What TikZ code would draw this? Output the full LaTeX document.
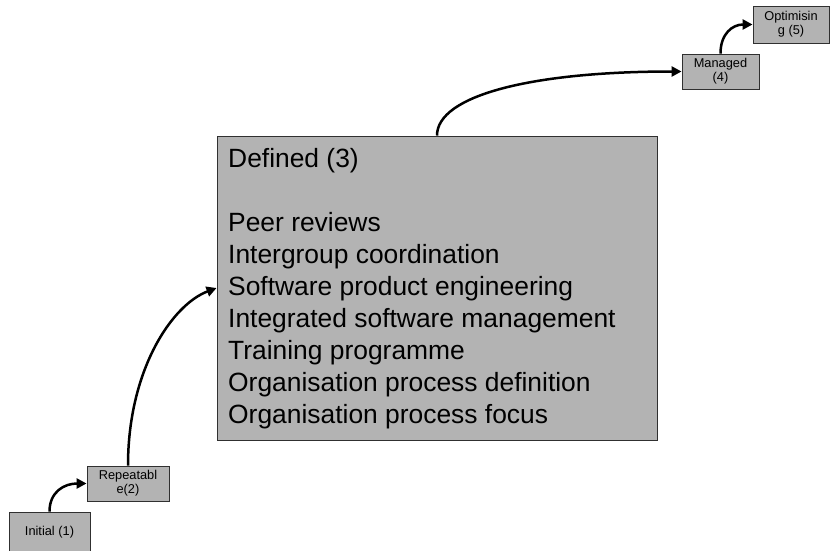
\documentclass[tikz,border=0pt]{standalone}
\usepackage{fontspec}
\setmainfont{Liberation Sans}
\usetikzlibrary{arrows.meta}
\definecolor{boxfill}{HTML}{B3B3B3}
\definecolor{boxline}{HTML}{303030}
\tikzset{
  smallbox/.style={draw=boxline, line width=0.9pt, fill=boxfill, inner sep=0pt,
    align=center, font=\fontsize{12.8}{14.3}\selectfont},
  bigbox/.style={draw=boxline, line width=0.9pt, fill=boxfill, inner sep=0pt,
    minimum width=440pt, minimum height=304pt},
  line/.style={anchor=base west, inner sep=0pt, font=\fontsize{26.4}{30}\selectfont},
  conn/.style={line width=2.5pt, -{Triangle[length=10pt,width=10pt]}}
}
\begin{document}
\begin{tikzpicture}[x=1pt,y=-1pt]
\useasboundingbox (0,0) rectangle (830,551);
\node[smallbox, minimum width=81pt, minimum height=40pt] (init) at (49.5,532) {Initial (1)};
\node[smallbox, minimum width=82pt, minimum height=35pt] (rep) at (128,483.5) {Repeatabl\\e(2)};
\node[bigbox] (def) at (437,288) {};
\node[line] (l1) at (228,167) {Defined (3)};
\node[line] (l2) at (228,231) {Peer reviews};
\node[line] (l3) at (228,263) {Intergroup coordination};
\node[line] (l4) at (228,295) {Software product engineering};
\node[line] (l5) at (228,327) {Integrated software management};
\node[line] (l6) at (228,359) {Training programme};
\node[line] (l7) at (228,391) {Organisation process definition};
\node[line] (l8) at (228,423) {Organisation process focus};
\node[smallbox, minimum width=77pt, minimum height=35pt] (man) at (720.5,71.5) {Managed\\(4)};
\node[smallbox, minimum width=76pt, minimum height=37pt] (opt) at (791,24.5) {Optimisin\\g (5)};
\draw[conn] (init.north) .. controls +(0,-20) and +(-22,0) .. (rep.west);
\draw[conn] (rep.north) .. controls +(0,-95) and +(-45,17) .. (def.west);
\draw[conn] (def.north) .. controls +(0,-40) and +(-150,0) .. (man.west);
\draw[conn] (man.north) .. controls +(0,-20) and +(-20,0) .. (opt.west);
\end{tikzpicture}
\end{document}
